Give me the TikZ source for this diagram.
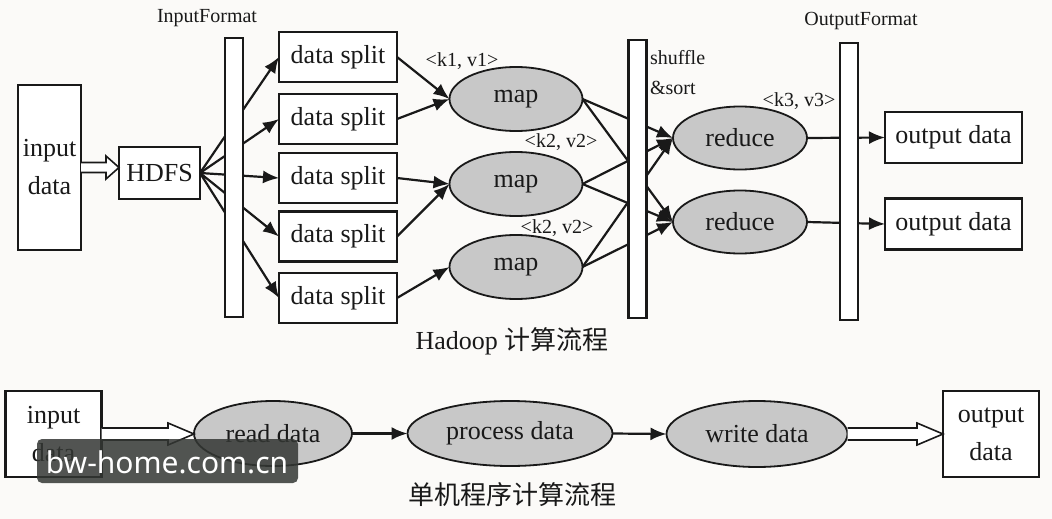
\documentclass[tikz,border=0pt]{standalone}
\usepackage{fontspec}
\setmainfont{Liberation Serif}
\newfontfamily\cjk{Noto Sans CJK SC}
\newfontfamily\wmfont{Noto Sans}
\usetikzlibrary{shapes.geometric,arrows.meta,calc}
\pgfdeclarelayer{bgl}
\pgfdeclarelayer{lines}
\pgfsetlayers{bgl,lines,main}
\definecolor{bggray}{RGB}{251,250,248}
\definecolor{ellgray}{RGB}{200,200,200}
\definecolor{wmgray}{RGB}{52,55,52}
\definecolor{inkc}{RGB}{25,25,25}
\newcommand{\hollowarr}[5]{% from, to, half shaft, head length, half head
  \draw[hollow] let \p1=(#1), \p2=(#2) in
   (\x1,\y1+#3) -- (\x2-#4,\y1+#3) -- (\x2-#4,\y1+#5) -- (\x2,\y1)
   -- (\x2-#4,\y1-#5) -- (\x2-#4,\y1-#3) -- (\x1,\y1-#3);}
\begin{document}
\begin{tikzpicture}[x=1pt,y=-1pt,
  every node/.style={inner sep=0pt,outer sep=0pt,text=inkc},
  big/.style={font=\fontsize{26}{38}\selectfont},
  small/.style={font=\fontsize{20}{30}\selectfont},
  box/.style={draw=inkc,line width=2.2pt,fill=white,big,align=center},
  bar/.style={draw=inkc,line width=2.2pt,fill=white,minimum width=18pt},
  oval/.style={ellipse,draw=inkc,line width=1.8pt,fill=ellgray,big},
  conn/.style={draw=inkc,line width=2.2pt,-{Latex[length=16pt,width=13pt]}},
  hollow/.style={draw=inkc,line width=1.6pt,fill=white,line join=miter}
]
\useasboundingbox (0,0) rectangle (1052,519);
\begin{pgfonlayer}{bgl}
\fill[bggray] (0,0) rectangle (1052,519);
\end{pgfonlayer}

% ---------- top: Hadoop ----------
\node[box,minimum width=63pt,minimum height=165pt] (inA) at (49.5,167.5) {input\\data};
\node[box,minimum width=81pt,minimum height=52pt] (hdfs) at (159.5,173) {HDFS};
\node[bar,minimum height=279pt] (ifbar) at (234,177.5) {};
\node[small] (iflab) at (207,18) {InputFormat};

\foreach \i/\y in {1/57,2/119,3/178,4/236.5,5/298}
  \node[box,minimum width=118pt,minimum height=50pt] (ds\i) at (338,\y) {data split};

\foreach \i/\y in {1/99,2/184,3/267}
  \node[oval,minimum width=133pt,minimum height=64pt] (map\i) at (516,\y) {map};

\node[small] (kv1) at (462,61) {<k1, v1>};
\node[small] (kv2) at (561,142) {<k2, v2>};
\node[small] (kv3) at (557,228) {<k2, v2>};

\node[bar,minimum height=278pt] (ssbar) at (637.5,179) {};
\node[small,anchor=west] (shuf) at (650,58) {shuffle};
\node[small,anchor=west] (sort) at (650,88) {\&sort};

\node[oval,minimum width=134pt,minimum height=63pt] (red1) at (740,138) {reduce};
\node[oval,minimum width=134pt,minimum height=63pt] (red2) at (740,222) {reduce};
\node[small] (kv4) at (799,101) {<k3, v3>};

\node[bar,minimum height=277pt] (ofbar) at (849,181.5) {};
\node[small] (oflab) at (861,21) {OutputFormat};

\node[box,minimum width=137pt,minimum height=51pt] (out1) at (953.5,137.5) {output data};
\node[box,minimum width=137pt,minimum height=51pt] (out2) at (953.5,224) {output data};

\node[big] (cap1) at (512,341) {Hadoop {\cjk 计算流程}};

\begin{pgfonlayer}{lines}
\foreach \i in {1,...,5} \draw[conn] (hdfs.east) -- (ds\i.west);
\draw[conn] (ds1.east) -- (map1.west);
\draw[conn] (ds2.east) -- (map1.west);
\draw[conn] (ds3.east) -- (map2.west);
\draw[conn] (ds4.east) -- (map2.west);
\draw[conn] (ds5.east) -- (map3.west);
\foreach \i in {1,2,3} {
  \draw[conn] (map\i.east) -- (red1.west);
  \draw[conn] (map\i.east) -- (red2.west);
}
\draw[conn] (red1.east) -- (out1.west);
\draw[conn] (red2.east) -- (out2.west);
\end{pgfonlayer}

\hollowarr{inA.east}{hdfs.west}{5pt}{13pt}{11.5pt}

% ---------- bottom: single machine ----------
\node[box,minimum width=96pt,minimum height=86pt] (inB) at (53.5,434) {input\\data};
\node[oval,minimum width=158pt,minimum height=65pt] (read) at (273,433.5) {read data};
\node[oval,minimum width=205pt,minimum height=65pt] (proc) at (510,433.5) {process data};
\node[oval,minimum width=181pt,minimum height=66pt] (write) at (757,434) {write data};
\node[box,minimum width=96pt,minimum height=86pt] (outB) at (991,434) {output\\data};

\draw[conn] (read.east) -- (proc.west);
\draw[conn] (proc.east) -- (write.west);
\hollowarr{inB.east}{read.west}{6pt}{26pt}{11pt}
\hollowarr{write.east}{outB.west}{6pt}{26pt}{11pt}

\node[big] (cap2) at (512,495) {\cjk 单机程序计算流程};

% ---------- watermark ----------
\fill[wmgray,fill opacity=0.85,rounded corners=5pt] (37,439) rectangle (298,483);
\node[text=white,font=\wmfont\fontsize{30}{30}\selectfont] (wm) at (167,462) {bw-home.com.cn};
\end{tikzpicture}
\end{document}
